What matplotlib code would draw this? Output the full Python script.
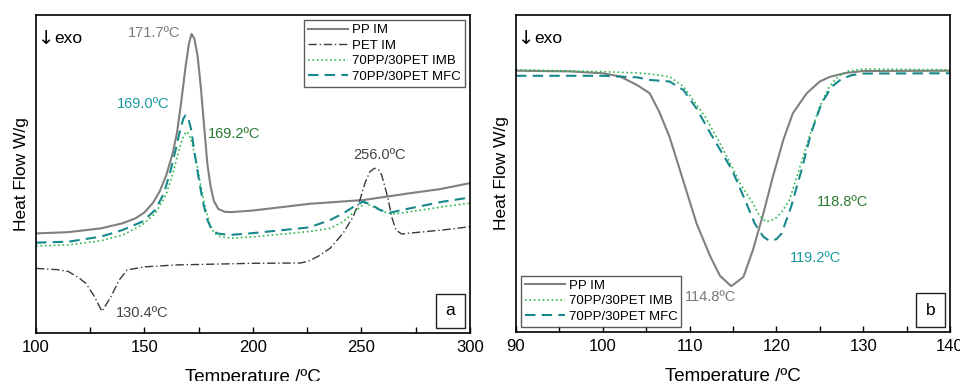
import matplotlib
matplotlib.use('Agg')
from matplotlib import pyplot as plt
from matplotlib.ticker import MultipleLocator

plt.rcParams['font.family'] = ['Liberation Sans', 'DejaVu Sans']

# ---- panel a: heating scans (arbitrary heat flow units, 0-100) ----
pp_x_a = [100, 115, 130, 140, 146, 150, 154, 157, 160, 163, 165, 167, 169, 170.5, 171.7, 173, 174.5, 176, 177.5, 179, 180.5, 182, 184, 187, 190, 200, 226, 251, 272, 286, 300]
pp_y_a = [31.3, 31.7, 32.9, 34.5, 36.1, 37.9, 41.0, 44.5, 49.5, 56.5, 63.0, 73.0, 84.0, 91.0, 94.0, 92.5, 87.0, 77.0, 65.0, 53.0, 46.0, 41.5, 39.0, 38.1, 38.0, 38.5, 40.6, 41.8, 43.9, 45.2, 47.1]

pet_x_a = [100, 110, 115, 120, 123, 127, 130.4, 134.5, 138.4, 142, 150, 165, 200, 222, 226, 230, 235.5, 241.6, 246.2, 249.3, 251.6, 253.9, 256, 258, 259.3, 260.8, 262.4, 263.9, 265.9, 268.5, 272.4, 287.7, 300]
pet_y_a = [20.3, 19.9, 19.3, 17.2, 15.6, 11.4, 6.8, 11.4, 16.7, 19.8, 20.8, 21.4, 21.9, 22.0, 22.7, 24.1, 26.6, 31.4, 36.6, 41.8, 47.1, 50.7, 51.8, 51.2, 49.7, 46.0, 41.8, 36.6, 32.4, 31.1, 31.4, 32.4, 33.4]

imb_x_a = [100, 115, 130, 140, 149, 155, 160, 163, 165.5, 167.5, 169.2, 170.5, 172, 174, 176, 178, 180, 182, 185, 190, 200, 226, 235.5, 241.6, 247.8, 251.6, 255.4, 260, 264.7, 272.4, 287.7, 300]
imb_y_a = [27.4, 27.7, 29.0, 30.8, 34.0, 37.6, 43.5, 50.0, 56.5, 61.0, 63.3, 62.5, 59.5, 53.5, 46.0, 39.5, 34.5, 31.5, 30.3, 29.8, 30.2, 31.9, 32.9, 35.0, 38.7, 40.8, 39.7, 38.1, 37.4, 38.1, 39.7, 40.8]

mfc_x_a = [100, 115, 130, 140, 149, 155, 159, 162, 164.5, 166.5, 168, 169.0, 170, 171.5, 173, 175, 177, 179, 181, 183.5, 189, 200, 226, 235.5, 241.6, 247.8, 250.8, 254.7, 258.5, 263, 272.4, 287.7, 300]
mfc_y_a = [28.4, 28.7, 30.3, 32.4, 35.0, 38.7, 44.0, 51.0, 58.0, 64.0, 67.5, 68.5, 68.0, 64.0, 57.0, 48.5, 41.0, 35.5, 32.5, 31.3, 30.8, 31.4, 33.2, 35.5, 37.6, 40.3, 41.3, 40.3, 38.7, 37.8, 39.2, 41.3, 42.6]

# ---- panel b: cooling scans ----
pp_x_b = [90, 96, 100, 102, 104, 105.4, 106.5, 107.7, 109.3, 110.8, 112.4, 113.5, 114.8, 116.2, 117.3, 118.5, 119.6, 120.8, 121.9, 123.5, 125, 126.2, 128, 130, 140]
pp_y_b = [82.4, 82.2, 81.6, 80.6, 77.8, 75.3, 69.5, 61.5, 47.5, 34.3, 23.8, 17.8, 14.5, 17.4, 25.9, 37.4, 49.0, 60.6, 69.0, 75.3, 79.0, 80.5, 81.7, 82.3, 82.4]

imb_x_b = [90, 100, 104, 105.4, 107.7, 109.3, 110.4, 111.8, 113.3, 114.9, 115.9, 117.3, 118.0, 118.8, 119.8, 120.6, 121.5, 122.6, 123.8, 125, 126.1, 127.2, 128.3, 130, 140]
imb_y_b = [82.7, 82.1, 81.7, 81.4, 80.5, 77.4, 73.2, 67.9, 60.6, 52.1, 46.5, 40.6, 37.0, 34.8, 35.6, 37.8, 41.6, 51.1, 61.6, 71.1, 77.4, 80.8, 82.3, 82.9, 82.7]

mfc_x_b = [90, 100, 104, 105.4, 107.7, 109.3, 110.8, 112.4, 114.9, 116.4, 117.5, 118.5, 119.2, 120.0, 120.6, 121.7, 122.9, 124, 125.2, 126.4, 127.5, 128.7, 130, 140]
mfc_y_b = [80.8, 80.8, 80.3, 79.5, 79.0, 76.3, 70.5, 62.7, 51.1, 41.6, 34.3, 30.1, 28.8, 29.3, 31.1, 39.5, 51.1, 62.7, 72.1, 77.4, 79.8, 81.0, 81.5, 81.6]

labels = ['PP IM', 'PET IM', '70PP/30PET IMB', '70PP/30PET MFC']

c_pp = '#808080'
c_pet = '#3a3a3a'
c_imb = '#2db84a'
c_mfc = '#17898c'
c_imb_txt = '#2a7a30'
c_mfc_txt = '#1a9aa0'

fig = plt.figure(figsize=(9.6, 3.81), dpi=100)
ax1 = fig.add_axes([0.0375, 0.126, 0.452, 0.835])
ax2 = fig.add_axes([0.5375, 0.128, 0.452, 0.833])

ax1.plot(pp_x_a, pp_y_a, color=c_pp, lw=1.5, label=labels[0])
ax1.plot(pet_x_a, pet_y_a, color=c_pet, lw=1.0, ls=(0, (6, 2, 1, 2)), label=labels[1])
ax1.plot(imb_x_a, imb_y_a, color=c_imb, lw=1.2, ls=':', label=labels[2])
ax1.plot(mfc_x_a, mfc_y_a, color=c_mfc, lw=1.5, ls=(0, (5, 3)), label=labels[3])

ax2.plot(pp_x_b, pp_y_b, color=c_pp, lw=1.5, label=labels[0])
ax2.plot(imb_x_b, imb_y_b, color=c_imb, lw=1.2, ls=':', label=labels[2])
ax2.plot(mfc_x_b, mfc_y_b, color=c_mfc, lw=1.5, ls=(0, (5, 3)), label=labels[3])

ax1.set_xlim(100, 300)
ax2.set_xlim(90, 140)
for ax, step in ((ax1, 25), (ax2, 5)):
    ax.set_ylim(0, 100)
    ax.set_yticks([])
    ax.xaxis.set_major_locator(MultipleLocator(step * 2))
    ax.xaxis.set_minor_locator(MultipleLocator(step))
    ax.tick_params(axis='x', which='both', direction='in', length=4, width=1,
                   labelsize=12, pad=5)
    ax.tick_params(axis='x', which='both', top=False)
    for s in ax.spines.values():
        s.set_linewidth(1.2)
    ax.set_xlabel('Temperature /ºC', fontsize=13.5, labelpad=10)
    ax.set_ylabel('Heat Flow W/g', fontsize=12.5, labelpad=5)
    ax.text(0.005, 0.925, '↓', transform=ax.transAxes, fontsize=14,
            family='DejaVu Sans', va='center', ha='left')
    ax.text(0.042, 0.925, 'exo', transform=ax.transAxes, fontsize=12.5,
            va='center', ha='left')

ax1.legend(loc='upper right', fontsize=9.5, frameon=True, fancybox=False,
           edgecolor='#333333', borderpad=0.3, labelspacing=0.25,
           handlelength=3, handletextpad=0.3, borderaxespad=0.4).get_frame().set_linewidth(1.0)
ax2.legend(loc='lower left', fontsize=9.5, frameon=True, fancybox=False,
           edgecolor='#333333', borderpad=0.3, labelspacing=0.25,
           handlelength=3, handletextpad=0.3, borderaxespad=0.4).get_frame().set_linewidth(1.0)

# peak annotations
ax1.text(166.4, 94.2, '171.7ºC', color='#7a7a7a', fontsize=10.5, ha='right', va='center')
ax1.text(161.7, 72.0, '169.0ºC', color=c_mfc_txt, fontsize=10.5, ha='right', va='center')
ax1.text(179.4, 62.5, '169.2ºC', color=c_imb_txt, fontsize=10.5, ha='left', va='center')
ax1.text(246.2, 55.8, '256.0ºC', color='#444444', fontsize=10.5, ha='left', va='center')
ax1.text(136.9, 6.3, '130.4ºC', color='#444444', fontsize=10.5, ha='left', va='center')

ax2.text(124.7, 40.9, '118.8ºC', color=c_imb_txt, fontsize=10.5, ha='left', va='center')
ax2.text(121.6, 23.5, '119.2ºC', color=c_mfc_txt, fontsize=10.5, ha='left', va='center')
ax2.text(109.5, 11.2, '114.8ºC', color='#7a7a7a', fontsize=10.5, ha='left', va='center')

for ax, tag in ((ax1, 'a'), (ax2, 'b')):
    ax.text(0.955, 0.07, tag, transform=ax.transAxes, fontsize=12.5, ha='center', va='center',
            bbox=dict(boxstyle='square,pad=0.55', fc='white', ec='#222222', lw=1.0))

fig.savefig('out.png', dpi=100)
